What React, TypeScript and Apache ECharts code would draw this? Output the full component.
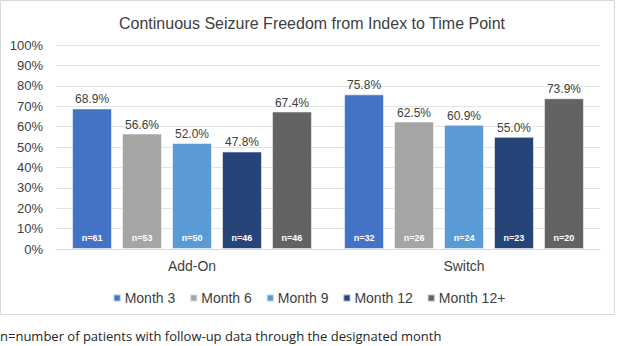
import React, { useEffect, useRef } from "react";
import * as echarts from "echarts";

const categories = ["Add-On", "Switch"];
const seriesNames = ["Month 3", "Month 6", "Month 9", "Month 12", "Month 12+"];
const colors = ["#4472C4", "#A5A5A5", "#5B9BD5", "#264478", "#636363"];
// percentages per series: [Add-On, Switch]
const month3 = [68.9, 75.8];
const month6 = [56.6, 62.5];
const month9 = [52.0, 60.9];
const month12 = [47.8, 55.0];
const month12plus = [67.4, 73.9];
const values = [month3, month6, month9, month12, month12plus];
// patients with follow-up data: [Add-On, Switch]
const nMonth3 = [61, 32];
const nMonth6 = [53, 26];
const nMonth9 = [50, 24];
const nMonth12 = [46, 23];
const nMonth12plus = [46, 20];
const counts = [nMonth3, nMonth6, nMonth9, nMonth12, nMonth12plus];
const yTicks = [0, 10, 20, 30, 40, 50, 60, 70, 80, 90, 100];

const FONT = "'Liberation Sans', Arial, sans-serif";

export default function App() {
  const ref = useRef<HTMLDivElement>(null);
  useEffect(() => {
    if (!ref.current) return;
    const chart = echarts.init(ref.current, null, { renderer: "svg" });
    const barCommon = {
      type: "bar",
      barGap: "25%",
      barCategoryGap: "11.8%",
    };
    const mainSeries = seriesNames.map((name, i) => ({
      ...barCommon,
      name,
      xAxisIndex: 0,
      data: values[i],
      itemStyle: { color: colors[i], borderColor: "rgba(255,255,255,0.55)", borderWidth: 1 },
      label: {
        show: true,
        position: "top",
        distance: 3,
        formatter: (p: any) => p.value.toFixed(1) + "%",
        color: "#404040",
        fontSize: 12,
        fontFamily: FONT,
      },
    }));
    const nSeries = seriesNames.map((name, i) => ({
      ...barCommon,
      name: name + " n",
      xAxisIndex: 1,
      data: values[i],
      itemStyle: { color: "transparent" },
      silent: true,
      label: {
        show: true,
        position: "insideBottom",
        distance: 7,
        formatter: (p: any) => "n=" + counts[i][p.dataIndex],
        color: "#ffffff",
        fontSize: 9,
        fontWeight: "bold",
        fontFamily: FONT,
      },
    }));
    chart.setOption({
      animation: false,
      textStyle: { fontFamily: FONT },
      title: {
        text: "Continuous Seizure Freedom from Index to Time Point",
        left: 307,
        textAlign: "center",
        top: 10,
        textStyle: { fontSize: 16, fontWeight: "normal", color: "#404040", fontFamily: FONT },
      },
      grid: { left: 56, right: 18, top: 45, bottom: 97 },
      legend: {
        data: seriesNames,
        left: "center",
        top: 286,
        icon: "rect",
        itemWidth: 7,
        itemHeight: 7,
        itemGap: 14,
        textStyle: { fontSize: 14, color: "#404040", fontFamily: FONT, padding: [0, 0, 0, -1] },
      },
      xAxis: [
        {
          type: "category",
          data: categories,
          axisTick: { show: false },
          axisLine: { lineStyle: { color: "#D9D9D9" } },
          axisLabel: { fontSize: 14, color: "#404040", margin: 10, fontFamily: FONT },
        },
        {
          type: "category",
          data: categories,
          show: false,
        },
      ],
      yAxis: {
        type: "value",
        min: yTicks[0],
        max: yTicks[yTicks.length - 1],
        interval: 10,
        axisLabel: { formatter: "{value}%", fontSize: 13, color: "#404040", margin: 13, fontFamily: FONT },
        splitLine: { lineStyle: { color: "#E3E3E3" } },
        axisLine: { show: false },
        axisTick: { show: false },
      },
      graphic: [
        {
          type: "rect",
          shape: { x: 0.5, y: 0.5, width: 614, height: 314 },
          style: { fill: "none", stroke: "#D9D9D9", lineWidth: 1 },
          silent: true,
        },
        {
          type: "text",
          left: 0,
          top: 329,
          style: {
            text: "n=number of patients with follow-up data through the designated month",
            font: "13px 'Open Sans', sans-serif",
            fill: "#262626",
          },
        },
      ],
      series: [...mainSeries, ...nSeries],
    });
    return () => chart.dispose();
  }, []);
  return (
    <div
      ref={ref}
      style={{ position: "fixed", left: 0, top: 0, width: 618, height: 346, background: "#fff" }}
    />
  );
}
